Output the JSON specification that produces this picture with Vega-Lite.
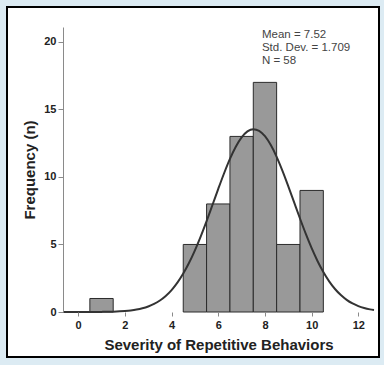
{
  "$schema": "https://vega.github.io/schema/vega-lite/v6.json",
  "autosize": "none",
  "width": 311,
  "height": 285,
  "padding": {"left": 63, "top": 27, "right": 10, "bottom": 53},
  "background": "#dcebf3",
  "config": {
    "view": {"stroke": "#8a8a8a", "strokeWidth": 1.5},
    "font": "Liberation Sans"
  },
  "datasets": {
    "bins": [
      {"start": 0.5, "end": 1.5, "count": 1},
      {"start": 4.5, "end": 5.5, "count": 5},
      {"start": 5.5, "end": 6.5, "count": 8},
      {"start": 6.5, "end": 7.5, "count": 13},
      {"start": 7.5, "end": 8.5, "count": 17},
      {"start": 8.5, "end": 9.5, "count": 5},
      {"start": 9.5, "end": 10.5, "count": 9}
    ],
    "curve": [
      {"x": -0.65, "y": 0.0002}, {"x": 0, "y": 0.0008}, {"x": 0.5, "y": 0.003}, {"x": 1, "y": 0.009},
      {"x": 1.5, "y": 0.027}, {"x": 2, "y": 0.074}, {"x": 2.25, "y": 0.117}, {"x": 2.5, "y": 0.181},
      {"x": 2.75, "y": 0.275}, {"x": 3, "y": 0.41}, {"x": 3.25, "y": 0.597}, {"x": 3.5, "y": 0.851},
      {"x": 3.75, "y": 1.188}, {"x": 4, "y": 1.624}, {"x": 4.25, "y": 2.17}, {"x": 4.5, "y": 2.842},
      {"x": 4.75, "y": 3.641}, {"x": 5, "y": 4.566}, {"x": 5.25, "y": 5.604}, {"x": 5.5, "y": 6.733},
      {"x": 5.75, "y": 7.92}, {"x": 6, "y": 9.117}, {"x": 6.25, "y": 10.273}, {"x": 6.5, "y": 11.331},
      {"x": 6.75, "y": 12.233}, {"x": 7, "y": 12.928}, {"x": 7.25, "y": 13.372}, {"x": 7.5, "y": 13.539},
      {"x": 7.75, "y": 13.418}, {"x": 8, "y": 13.016}, {"x": 8.25, "y": 12.359}, {"x": 8.5, "y": 11.487},
      {"x": 8.75, "y": 10.45}, {"x": 9, "y": 9.306}, {"x": 9.25, "y": 8.111}, {"x": 9.5, "y": 6.92},
      {"x": 9.75, "y": 5.78}, {"x": 10, "y": 4.724}, {"x": 10.25, "y": 3.78}, {"x": 10.5, "y": 2.96},
      {"x": 10.75, "y": 2.269}, {"x": 11, "y": 1.703}, {"x": 11.25, "y": 1.251}, {"x": 11.5, "y": 0.899},
      {"x": 11.75, "y": 0.632}, {"x": 12, "y": 0.436}, {"x": 12.25, "y": 0.294}, {"x": 12.5, "y": 0.194},
      {"x": 12.67, "y": 0.144}
    ],
    "stats": [{"label": "Mean = 7.52\nStd. Dev. = 1.709\nN = 58"}]
  },
  "layer": [
    {
      "data": {"values": [{}]},
      "mark": {"type": "rect", "fill": "white", "stroke": "black", "strokeWidth": 2, "clip": false,
               "xOffset": -56, "x2Offset": 5, "yOffset": -20, "y2Offset": 45},
      "encoding": {
        "x": {"value": 0},
        "x2": {"value": "width"},
        "y": {"value": 0},
        "y2": {"value": "height"}
      }
    },
    {
      "data": {"name": "bins"},
      "mark": {"type": "rect", "fill": "#999999", "stroke": "#2b2b2b", "strokeWidth": 1},
      "encoding": {
        "x": {"field": "start", "type": "quantitative",
              "scale": {"domain": [-0.65, 12.67], "nice": false, "zero": false},
              "axis": {"title": "Severity of Repetitive Behaviors", "values": [0, 2, 4, 6, 8, 10, 12],
                       "grid": false, "domain": false, "tickColor": "#8a8a8a", "tickSize": 4,
                       "labelFont": "Liberation Sans", "labelFontWeight": "bold", "labelFontSize": 11,
                       "labelColor": "#222", "labelPadding": 3,
                       "titleFont": "Liberation Sans", "titleFontWeight": "bold", "titleFontSize": 15,
                       "titleColor": "#222", "titlePadding": 7, "zindex": 1}},
        "x2": {"field": "end"},
        "y": {"field": "count", "type": "quantitative",
              "scale": {"domain": [0, 21.1], "nice": false},
              "axis": {"title": "Frequency (n)", "values": [0, 5, 10, 15, 20],
                       "grid": false, "domainColor": "#8a8a8a", "tickColor": "#8a8a8a", "tickSize": 5,
                       "labelFont": "Liberation Sans", "labelFontWeight": "bold", "labelFontSize": 11,
                       "labelColor": "#222", "labelPadding": 2,
                       "titleFont": "Liberation Sans", "titleFontWeight": "bold", "titleFontSize": 15,
                       "titleColor": "#222", "titlePadding": 6, "zindex": 1}},
        "y2": {"datum": 0}
      }
    },
    {
      "data": {"name": "curve"},
      "mark": {"type": "line", "color": "#333333", "strokeWidth": 2, "interpolate": "monotone"},
      "encoding": {
        "x": {"field": "x", "type": "quantitative"},
        "y": {"field": "y", "type": "quantitative"}
      }
    },
    {
      "data": {"name": "stats"},
      "mark": {"type": "text", "align": "left", "baseline": "top", "font": "Liberation Sans",
               "fontSize": 11.5, "color": "#444444", "lineBreak": "\n", "lineHeight": 13},
      "encoding": {
        "x": {"datum": 7.87, "type": "quantitative"},
        "y": {"datum": 20.95, "type": "quantitative"},
        "text": {"field": "label"}
      }
    }
  ]
}
